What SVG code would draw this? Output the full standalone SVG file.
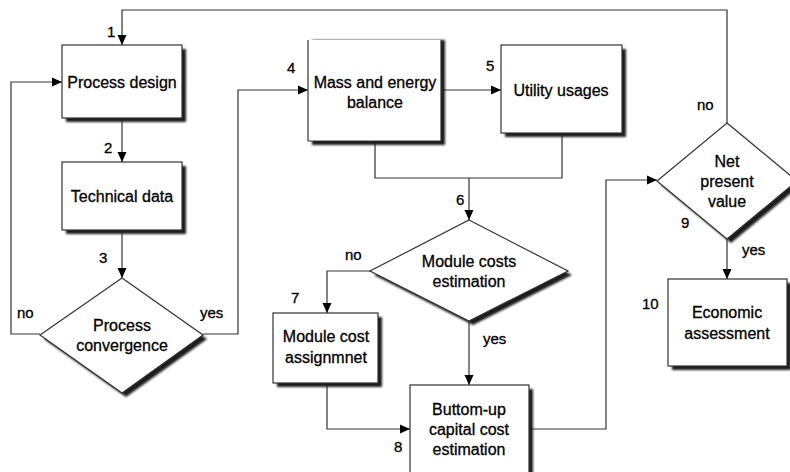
<svg xmlns="http://www.w3.org/2000/svg" width="790" height="472" viewBox="0 0 790 472">
<defs>
<filter id="sh" x="-10%" y="-10%" width="130%" height="130%">
<feGaussianBlur stdDeviation="1.1"/>
</filter>
<marker id="ar" markerUnits="userSpaceOnUse" markerWidth="10" markerHeight="10" viewBox="0 0 10 10" refX="10" refY="5" orient="auto">
<path d="M0,0.5 L10,5 L0,9.5 Z" fill="#000"/>
</marker>
</defs>
<style>
.box{fill:#fff;stroke:#333;stroke-width:1.2}
.shd{fill:#1a1a1a;filter:url(#sh)}
.t{font-family:"Liberation Sans",Arial,sans-serif;font-size:16px;fill:#000;stroke:#000;stroke-width:0.3;text-anchor:middle}
.l{font-family:"Liberation Sans",Arial,sans-serif;font-size:15px;fill:#000;stroke:#000;stroke-width:0.3}
.c{fill:none;stroke:#333;stroke-width:1.2}
</style>
<rect width="790" height="472" fill="#fff"/>
<g id="connectors">
<path class="c" d="M727,123 V10 H122 V45" marker-end="url(#ar)"/>
<path class="c" d="M40,334 H11 V82 H62" marker-end="url(#ar)"/>
<path class="c" d="M122,118 V162" marker-end="url(#ar)"/>
<path class="c" d="M122,230 V278" marker-end="url(#ar)"/>
<path class="c" d="M203,334 H238 V90 H308" marker-end="url(#ar)"/>
<path class="c" d="M441,90 H501" marker-end="url(#ar)"/>
<path class="c" d="M375,141 V178 H562 V133"/>
<path class="c" d="M469,178 V220" marker-end="url(#ar)"/>
<path class="c" d="M370,271 H327 V313" marker-end="url(#ar)"/>
<path class="c" d="M469,321 V385" marker-end="url(#ar)"/>
<path class="c" d="M327,383 V429 H410" marker-end="url(#ar)"/>
<path class="c" d="M529,429 H606 V180 H657" marker-end="url(#ar)"/>
<path class="c" d="M727,239 V279" marker-end="url(#ar)"/>
</g>
<g id="n1">
<rect class="shd" x="66" y="49" width="120" height="73"/>
<rect class="box" x="62" y="45" width="120" height="73"/>
<text class="t" x="122" y="88">Process design</text>
</g>
<g id="n2">
<rect class="shd" x="66" y="166" width="120" height="68"/>
<rect class="box" x="62" y="162" width="120" height="68"/>
<text class="t" x="122" y="202">Technical data</text>
</g>
<g id="n3">
<polygon class="shd" points="126,282 207,339 126,397 44,339"/>
<polygon class="box" points="122,278 203,335 122,393 40,335"/>
<text class="t" x="122" y="331">Process</text>
<text class="t" x="122" y="351">convergence</text>
</g>
<g id="n4">
<rect class="shd" x="312" y="40" width="133" height="105"/>
<rect x="308" y="40" width="133" height="101" fill="#fff"/>
<path class="c" d="M308,40 V141 H441 V40"/>
<text class="t" x="375" y="88">Mass and energy</text>
<text class="t" x="375" y="108">balance</text>
</g>
<g id="n5">
<rect class="shd" x="505" y="49" width="121" height="88"/>
<rect class="box" x="501" y="45" width="121" height="88"/>
<text class="t" x="561" y="96">Utility usages</text>
</g>
<g id="n6">
<polygon class="shd" points="473,224 572,275 473,325 374,275"/>
<polygon class="box" points="469,220 568,271 469,321 370,271"/>
<text class="t" x="469" y="267">Module costs</text>
<text class="t" x="469" y="287">estimation</text>
</g>
<g id="n7">
<rect class="shd" x="277" y="317" width="105" height="70"/>
<rect class="box" x="273" y="313" width="105" height="70"/>
<text class="t" x="326" y="342">Module cost</text>
<text class="t" x="326" y="363">assignmnet</text>
</g>
<g id="n8">
<rect class="shd" x="414" y="389" width="119" height="100"/>
<rect class="box" x="410" y="385" width="119" height="100"/>
<text class="t" x="469" y="415">Buttom-up</text>
<text class="t" x="469" y="435">capital cost</text>
<text class="t" x="469" y="455">estimation</text>
</g>
<g id="n9">
<polygon class="shd" points="731,127 801,185 731,243 661,185"/>
<polygon class="box" points="727,123 797,181 727,239 657,181"/>
<text class="t" x="727" y="167">Net</text>
<text class="t" x="727" y="187">present</text>
<text class="t" x="727" y="207">value</text>
</g>
<g id="n10">
<rect class="shd" x="672" y="283" width="119" height="87"/>
<rect class="box" x="668" y="279" width="119" height="87"/>
<text class="t" x="727" y="318">Economic</text>
<text class="t" x="727" y="339">assessment</text>
</g>
<g id="labels">
<text class="l" x="107" y="37">1</text>
<text class="l" x="104" y="153">2</text>
<text class="l" x="99" y="263">3</text>
<text class="l" x="17" y="318">no</text>
<text class="l" x="200" y="318">yes</text>
<text class="l" x="287" y="73">4</text>
<text class="l" x="486" y="71">5</text>
<text class="l" x="456" y="205">6</text>
<text class="l" x="345" y="260">no</text>
<text class="l" x="291" y="303">7</text>
<text class="l" x="483" y="344">yes</text>
<text class="l" x="394" y="452">8</text>
<text class="l" x="697" y="110">no</text>
<text class="l" x="681" y="228">9</text>
<text class="l" x="742" y="255">yes</text>
<text class="l" x="642" y="309">10</text>
</g>
</svg>
